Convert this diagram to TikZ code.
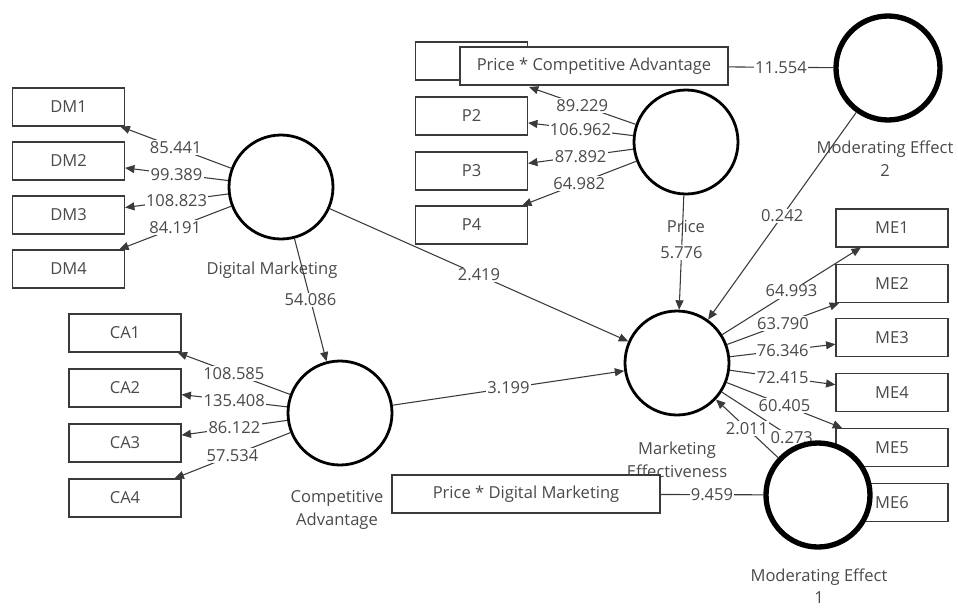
\documentclass[tikz,border=0pt]{standalone}
\usepackage{fontspec}
\setmainfont{Open Sans}
\usetikzlibrary{arrows.meta}
\definecolor{txt}{HTML}{4A4A4A}
\definecolor{ln}{HTML}{3A3A3A}
\begin{document}
\begin{tikzpicture}[x=0.75pt,y=-0.75pt,
  font=\fontsize{12.4}{17}\selectfont, text=txt,
  ind/.style={draw=ln, line width=0.9pt, fill=white, minimum width=84pt, minimum height=28.5pt, inner sep=0pt},
  wide/.style={ind, minimum width=201pt},
  lat/.style={circle, draw=black, line width=2.1pt, fill=white, minimum size=78pt, inner sep=0pt},
  mod/.style={lat, line width=4pt},
  ld/.style={draw=ln, line width=0.8pt, -{Triangle[length=7pt,width=6pt]}},
  pl/.style={draw=ln, line width=0.8pt},
  val/.style={fill=white, inner sep=1pt, text=txt},
  captxt/.style={align=center, text=txt, inner sep=0pt}]
\useasboundingbox (0,0) rectangle (958,608);
% indicator boxes
\node[ind] (dm1) at (68.5,107) {DM1};
\node[ind] (dm2) at (68.5,161) {DM2};
\node[ind] (dm3) at (68.5,215) {DM3};
\node[ind] (dm4) at (68.5,269) {DM4};
\node[ind] (ca1) at (125,333) {CA1};
\node[ind] (ca2) at (125,388) {CA2};
\node[ind] (ca3) at (125,443) {CA3};
\node[ind] (ca4) at (125,498) {CA4};
\node[ind] (p1) at (471.5,61) {};
\node[ind] (p2) at (471.5,116) {P2};
\node[ind] (p3) at (471.5,171) {P3};
\node[ind] (p4) at (471.5,225) {P4};
\node[ind] (me1) at (892,228) {ME1};
\node[ind] (me2) at (892,283.5) {ME2};
\node[ind] (me3) at (892,337.5) {ME3};
\node[ind] (me4) at (892,392.5) {ME4};
\node[ind] (me5) at (892,447.5) {ME5};
\node[ind] (me6) at (892,502.5) {ME6};
% latent variables
\node[lat] (DM) at (281,187) {};
\node[lat] (CA) at (340,413) {};
\node[lat] (PR) at (686,142) {};
\node[lat] (ME) at (677,363) {};
\node[mod] (MOD2) at (888,68) {};
% captions
\node[captxt] (capdm) at (272,270) {Digital Marketing};
\node[captxt] (capca) at (337,510) {Competitive\\Advantage};
\node[captxt] (cappr) at (686,227) {Price};
\node[captxt] (capme) at (677,460) {Marketing\\Effectiveness};
\node[captxt] (capm2) at (885,159) {Moderating Effect\\2};
\node[captxt] (capm1) at (819,586) {Moderating Effect\\1};
% outer loadings
\draw[ld] (DM) -- node[val]{85.441} (dm1);
\draw[ld] (DM) -- node[val]{99.389} (dm2);
\draw[ld] (DM) -- node[val]{108.823} (dm3);
\draw[ld] (DM) -- node[val]{84.191} (dm4);
\draw[ld] (CA) -- node[val]{108.585} (ca1);
\draw[ld] (CA) -- node[val]{135.408} (ca2);
\draw[ld] (CA) -- node[val]{86.122} (ca3);
\draw[ld] (CA) -- node[val]{57.534} (ca4);
\coordinate (p1tip) at (529,87);
\draw[ld] (PR) -- node[val]{89.229} (p1tip);
\draw[ld] (PR) -- node[val]{106.962} (p2);
\draw[ld] (PR) -- node[val]{87.892} (p3);
\draw[ld] (PR) -- node[val]{64.982} (p4);
\draw[ld] (ME) -- node[val]{64.993} (me1);
\draw[ld] (ME) -- node[val]{63.790} (me2);
\draw[ld] (ME) -- node[val]{76.346} (me3);
\draw[ld] (ME) -- node[val]{72.415} (me4);
\draw[ld] (ME) -- node[val]{60.405} (me5);
\draw[ld] (ME) -- node[val]{0.273} (me6);
% interaction boxes
\node[wide] (PCA) at (594,66) {Price * Competitive Advantage};
\node[mod] (MOD1) at (818,495) {};
\node[wide] (PDM) at (526,494) {Price * Digital Marketing};
% structural paths
\draw[ld] (DM) -- node[val]{54.086} (CA);
\draw[ld] (DM) -- node[val]{2.419} (ME);
\draw[ld] (CA) -- node[val]{3.199} (ME);
\draw[ld] (PR) -- node[val]{5.776} (ME);
\draw[ld] (MOD2) -- node[val]{0.242} (ME);
\draw[ld] (MOD1) -- node[val]{2.011} (ME);
\draw[pl] (PCA) -- node[val]{11.554} (MOD2);
\draw[pl] (PDM) -- node[val]{9.459} (MOD1);
\end{tikzpicture}
\end{document}
